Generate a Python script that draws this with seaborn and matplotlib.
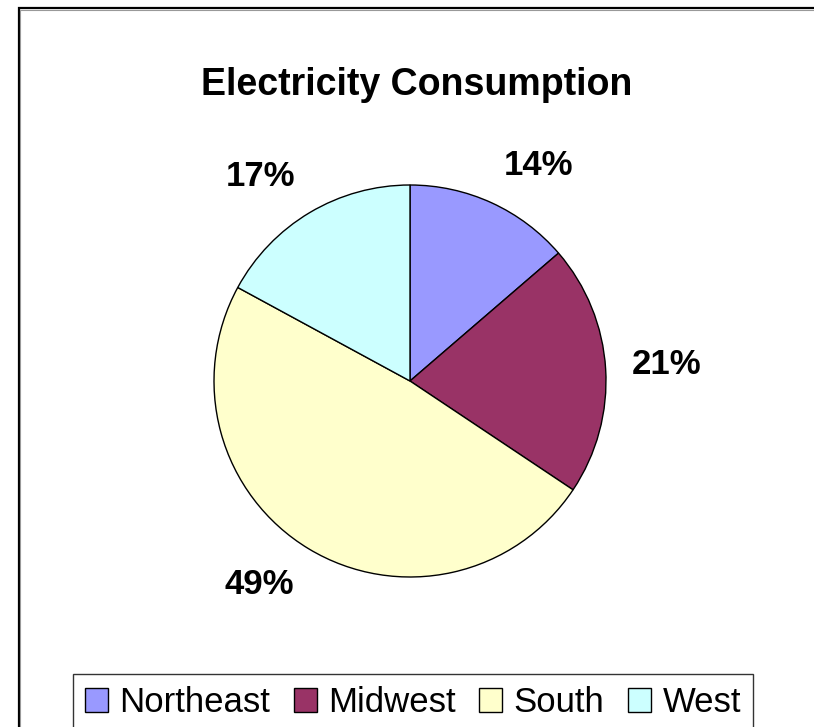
import numpy as np
import seaborn as sns
import matplotlib
matplotlib.use("Agg")
import matplotlib.pyplot as plt
from matplotlib.patches import Rectangle

# data
regions = ["Northeast", "Midwest", "South", "West"]
shares = [13.7, 20.7, 48.6, 17.1]
colors = ["#9999FF", "#993366", "#FFFFCC", "#CCFFFF"]
title = "Electricity Consumption"

sns.set_theme(style="white")
plt.rcParams["font.family"] = ["Liberation Sans", "DejaVu Sans"]
plt.rcParams["text.color"] = "black"

W, H = 814, 727
fig = plt.figure(figsize=(W / 100, H / 100), dpi=100)
fig.patch.set_facecolor("white")

# pie axes: centre (410, 381) px, radius 196 px -> 1 data unit
r_px = 196
half = 1.5 * r_px
ax = fig.add_axes([(410 - half) / W, (H - 381 - half) / H, 2 * half / W, 2 * half / H])
wedges, _, autotexts = ax.pie(
    shares, colors=colors, startangle=90, counterclock=False, radius=1,
    autopct="%.0f%%", wedgeprops=dict(edgecolor="black", linewidth=1),
    textprops=dict(fontsize=25, fontweight="bold", color="black"),
)
ax.set_aspect("auto")
ax.set_xlim(-1.5, 1.5)
ax.set_ylim(-1.5, 1.5)
ax.axis("off")

# place the percentage labels just outside the pie, like Excel does
for w, t in zip(wedges, autotexts):
    ang = np.deg2rad((w.theta1 + w.theta2) / 2)
    ux, uy = np.cos(ang), np.sin(ang)
    x = 1.12 * ux + 0.19 * np.clip(3 * ux, -1, 1)
    y = 1.12 * uy + 0.08 * np.clip(3 * uy, -1, 1)
    t.set_position((x, y))
    t.set_ha("center")
    t.set_va("center")

fig.text(417 / W, 1 - 95 / H, title, ha="center", va="baseline",
         fontsize=27, fontweight="bold", color="black")

# legend in one row at the bottom
handles = [Rectangle((0, 0), 1, 1, facecolor=c, edgecolor="black", linewidth=1) for c in colors]
leg = fig.legend(
    handles, regions, loc="upper center", bbox_to_anchor=(413 / W, 1 - 674 / H),
    ncol=4, fontsize=25, frameon=True, fancybox=False, handlelength=0.66,
    handleheight=0.66, handletextpad=0.33, columnspacing=0.68, borderpad=0.35,
    borderaxespad=0, labelcolor="black",
)
leg.get_frame().set_edgecolor("black")
leg.get_frame().set_linewidth(1)

# outer chart border (runs off the right and bottom edges)
x0, y0 = 18.7 / W, 1 - 8.5 / H
fig.patches.append(Rectangle((x0, -0.2), 1.2, y0 + 0.2, transform=fig.transFigure,
                             fill=False, edgecolor="black", linewidth=1.6))
fig.patches.append(Rectangle((x0 + 1.5 / W, -0.2), 1.2, y0 + 0.2 - 1.5 / H,
                             transform=fig.transFigure, fill=False,
                             edgecolor="#999999", linewidth=0.8))

fig.savefig("out.png", dpi=100)
